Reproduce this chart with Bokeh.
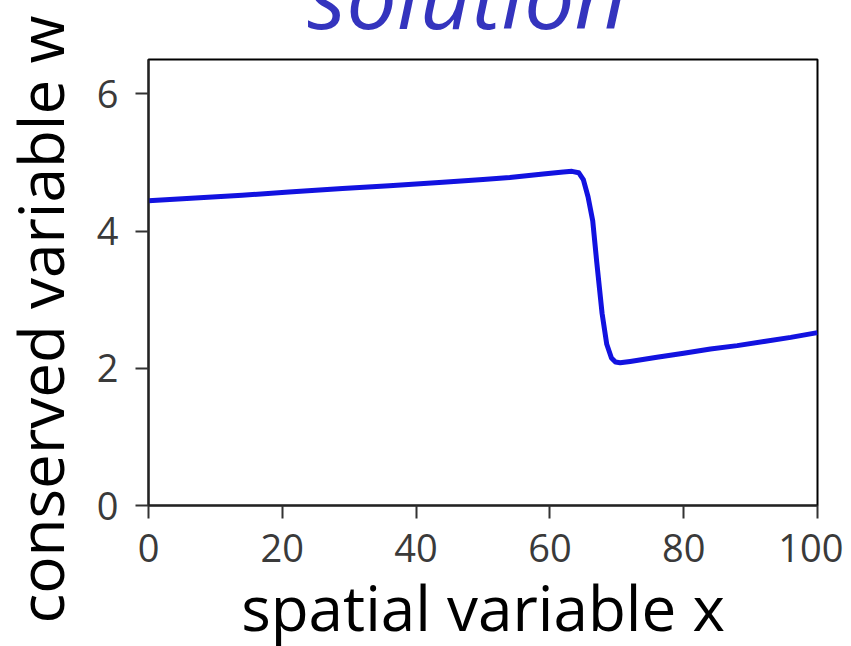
from bokeh.plotting import figure
from bokeh.models import Range1d, FixedTicker, Title
from bokeh.embed import file_html
from bokeh.resources import INLINE

# data
x_vals = [0, 7, 14, 21, 29, 36, 44, 50, 54, 59, 62, 63.3, 64.3, 65.0, 65.7, 66.4,
          67.0, 67.8, 68.5, 69.2, 69.8, 70.5, 72, 76, 80, 84, 88, 92, 96, 100]
w_vals = [4.44, 4.48, 4.52, 4.57, 4.62, 4.66, 4.71, 4.75, 4.78, 4.83, 4.86, 4.87,
          4.85, 4.75, 4.50, 4.15, 3.55, 2.80, 2.35, 2.15, 2.09, 2.08, 2.10, 2.16,
          2.22, 2.28, 2.33, 2.39, 2.45, 2.52]
x_ticks = [0, 20, 40, 60, 80, 100]
y_ticks = [0, 2, 4, 6]

title_text = "solution"
x_label = "spatial variable x"
y_label = "conserved variable w"

FONT = "Open Sans"

p = figure(frame_width=669, frame_height=446, output_backend="svg",
           toolbar_location=None,
           x_range=Range1d(0, 100), y_range=Range1d(0, 6.5),
           min_border_left=0, min_border_right=26, min_border_top=0,
           min_border_bottom=0)
p.background_fill_color = "white"
p.border_fill_color = "white"
p.outline_line_color = "black"
p.outline_line_width = 2
p.grid.visible = False

p.line(x_vals, w_vals, line_color="#1212e0", line_width=5, line_join="round")

for ax, ticks in ((p.xaxis, x_ticks), (p.yaxis, y_ticks)):
    ax.ticker = FixedTicker(ticks=ticks)
    ax.minor_tick_line_color = None
    ax.major_tick_in = 0
    ax.major_tick_out = 13
    ax.major_tick_line_width = 2
    ax.major_tick_line_color = "#333333"
    ax.axis_line_color = "#222222"
    ax.axis_line_width = 2
    ax.major_label_text_font = FONT
    ax.major_label_text_font_size = "38px"
    ax.major_label_text_color = "#3a3a3a"

p.xaxis.major_label_standoff = 15
p.yaxis.major_label_standoff = 17

p.xaxis.axis_label = x_label
p.xaxis.axis_label_text_font = FONT
p.xaxis.axis_label_text_font_size = "62px"
p.xaxis.axis_label_text_font_style = "normal"
p.xaxis.axis_label_text_color = "black"
p.xaxis.axis_label_standoff = 0

p.title.text = title_text
p.title.text_font = FONT
p.title.text_font_style = "italic"
p.title.text_font_size = "90px"
p.title.text_color = "#3434be"
p.title.align = "left"
p.title.offset = 159
p.title.standoff = 10

p.add_layout(Title(text=y_label, text_font=FONT, text_font_size="62px",
                   text_font_style="normal", text_color="black",
                   align="left", offset=-118, standoff=23), "left")

p.styles = {"margin-top": "-75px", "margin-left": "-16px"}

open("out.html", "w").write(file_html(p, INLINE))
